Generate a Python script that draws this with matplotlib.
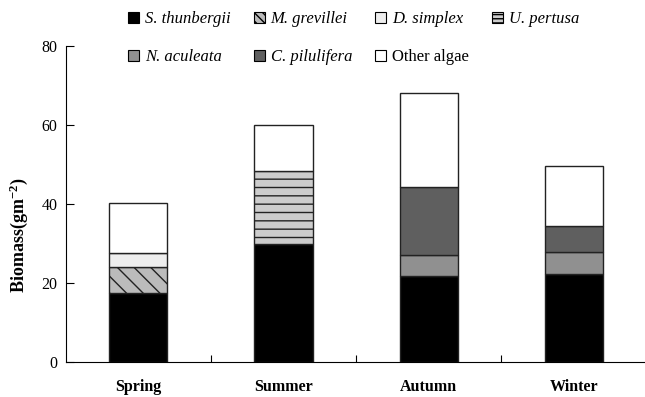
import numpy as np
import matplotlib
matplotlib.use('Agg')
import matplotlib.pyplot as plt
from matplotlib.patches import Patch

plt.rcParams['font.family'] = ['Liberation Serif', 'DejaVu Serif']
plt.rcParams['hatch.linewidth'] = 1.0
plt.rcParams['mathtext.fontset'] = 'custom'
plt.rcParams['mathtext.rm'] = 'Liberation Serif'
plt.rcParams['mathtext.bf'] = 'Liberation Serif:bold'

# Data (biomass, g m-2)
seasons = ['Spring', 'Summer', 'Autumn', 'Winter']
species = ['S. thunbergii', 'M. grevillei', 'D. simplex', 'U. pertusa',
           'N. aculeata', 'C. pilulifera', 'Other algae']
s_thunbergii = [17.5, 29.8, 21.9, 22.4]
m_grevillei = [6.6, 0.0, 0.0, 0.0]
d_simplex = [3.6, 0.0, 0.0, 0.0]
u_pertusa = [0.0, 18.6, 0.0, 0.0]
n_aculeata = [0.0, 0.0, 5.3, 5.5]
c_pilulifera = [0.0, 0.0, 17.2, 6.5]
other_algae = [12.5, 11.6, 23.6, 15.2]

layers = [s_thunbergii, m_grevillei, d_simplex, u_pertusa,
          n_aculeata, c_pilulifera, other_algae]
colors = ['black', '#bbbbbb', '#eeeeee', '#cccccc', '#909090', '#5f5f5f', 'white']
hatches = [None, '\\\\', None, '--', None, None, None]

fig = plt.figure(figsize=(6.45, 3.97), dpi=100)
ax = fig.add_axes([0.102, 0.088, 0.90, 0.796])

x = np.arange(len(seasons))
bottom = np.zeros(len(seasons))
proxies = []
for vals, col, h, name in zip(layers, colors, hatches, species):
    vals = np.array(vals)
    bars = ax.bar(x, vals, width=0.4, bottom=bottom, color=col,
                  edgecolor='#222222', linewidth=1.0, hatch=h)
    for b, v in zip(bars, vals):
        if v == 0:
            b.set_visible(False)
    lh = h * 2 if h else None
    proxies.append(Patch(facecolor=col, edgecolor='black', linewidth=0.8,
                         hatch=lh, label=name))
    bottom += vals

ax.set_xlim(-0.5, 3.5)
ax.set_ylim(0, 80)
ax.set_yticks([0, 20, 40, 60, 80])
ax.set_xticks(x)
ax.set_xticklabels(seasons, fontweight='bold', fontsize=11.5)
ax.set_xticks(np.arange(0.5, 3.0, 1.0), minor=True)
ax.tick_params(axis='x', which='major', length=0, pad=12)
ax.tick_params(axis='x', which='minor', direction='in', length=5, width=0.8)
ax.tick_params(axis='y', direction='in', length=6, width=0.8, labelsize=11.5, pad=6)
ax.spines['top'].set_visible(False)
ax.spines['right'].set_visible(False)
ax.set_ylabel(r'$\mathbf{Biomass(gm^{-2})}$', fontsize=13)
ax.yaxis.set_label_coords(-0.062, 0.40)

# legend fills column-wise; reorder so rows read like the original
order = [0, 4, 1, 5, 2, 6, 3]
leg = fig.legend(handles=[proxies[i] for i in order], ncol=4,
                 loc='upper left', bbox_to_anchor=(0.199, 0.972),
                 frameon=False, fontsize=12, handlelength=0.65,
                 handleheight=0.65, handletextpad=0.35, columnspacing=1.4,
                 labelspacing=1.32, borderpad=0, borderaxespad=0)
for t in leg.get_texts():
    if t.get_text() != 'Other algae':
        t.set_style('italic')

fig.savefig('out.png', dpi=100)
